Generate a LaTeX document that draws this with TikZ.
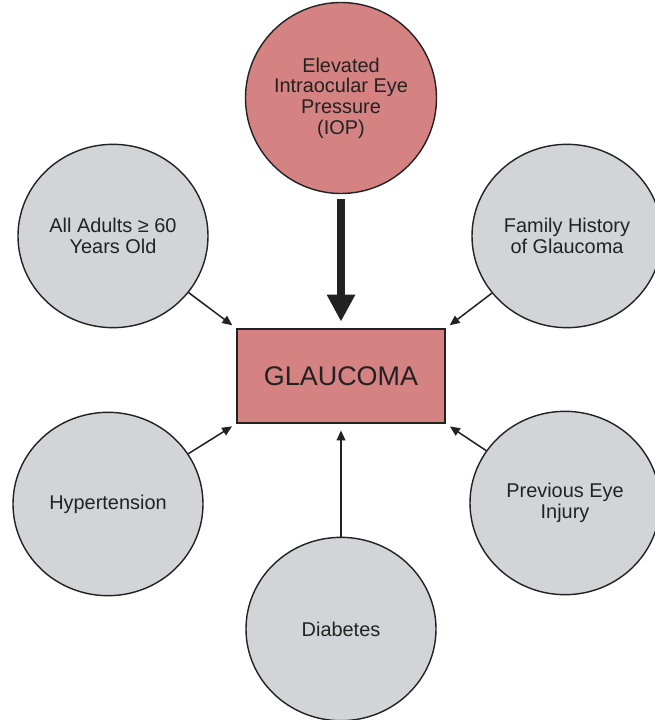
\documentclass[tikz,border=0pt]{standalone}
\usepackage{fontspec}
\setmainfont{Liberation Sans}
\usetikzlibrary{shapes.geometric,arrows.meta}
\definecolor{riskgray}{HTML}{D3D4D8}
\definecolor{salmon}{HTML}{D58282}
\definecolor{inkgray}{HTML}{222222}
\begin{document}
\begin{tikzpicture}
        [risk/.style={ellipse, draw=inkgray, line width=1.2pt, fill=riskgray,
            minimum width=5.7cm, minimum height=5.5cm, inner sep=0pt,
            align=center, text=inkgray, font=\fontsize{17}{17.6}\selectfont},
        cause/.style={risk, circle, fill=salmon, minimum size=5.73cm},
        disease/.style={rectangle, draw=inkgray, line width=1.2pt, fill=salmon,
            minimum width=6.24cm, minimum height=2.82cm, text=inkgray,
            font=\fontsize{23}{24}\selectfont},
        arrow/.style={draw=inkgray, line width=1.3pt, shorten >=0.15cm,
            -{Triangle[length=0.3cm,width=0.26cm]}},
        bigarrow/.style={draw=inkgray, line width=6pt, shorten <=0.15cm,
            shorten >=0.2cm, -{Triangle[length=0.81cm,width=0.8cm]}}]
        \useasboundingbox (0,0) rectangle (19.62,-21.6);
        \node[disease] (glaucoma) at (10.23,-11.28) {GLAUCOMA};
        \node[cause] (iop) at (10.23,-2.94)
            {Elevated\\Intraocular Eye\\Pressure\\(IOP)}
            edge[bigarrow] (glaucoma);
        \node[risk] (adults) at (3.39,-7.08) {All Adults ≥ 60\\Years Old}
            edge[arrow] (glaucoma.north west);
        \node[risk] (family) at (17.01,-7.08) {Family History\\of Glaucoma}
            edge[arrow] (glaucoma.north east);
        \node[risk] (hypertension) at (3.24,-15.12) {Hypertension}
            edge[arrow] (glaucoma.south west);
        \node[risk] (injury) at (16.95,-15.09) {Previous Eye\\Injury}
            edge[arrow] (glaucoma.south east);
        \node[risk] (diabetes) at (10.23,-18.87) {Diabetes}
            edge[arrow, shorten >=0.2cm] (glaucoma);
    \end{tikzpicture}
\end{document}
